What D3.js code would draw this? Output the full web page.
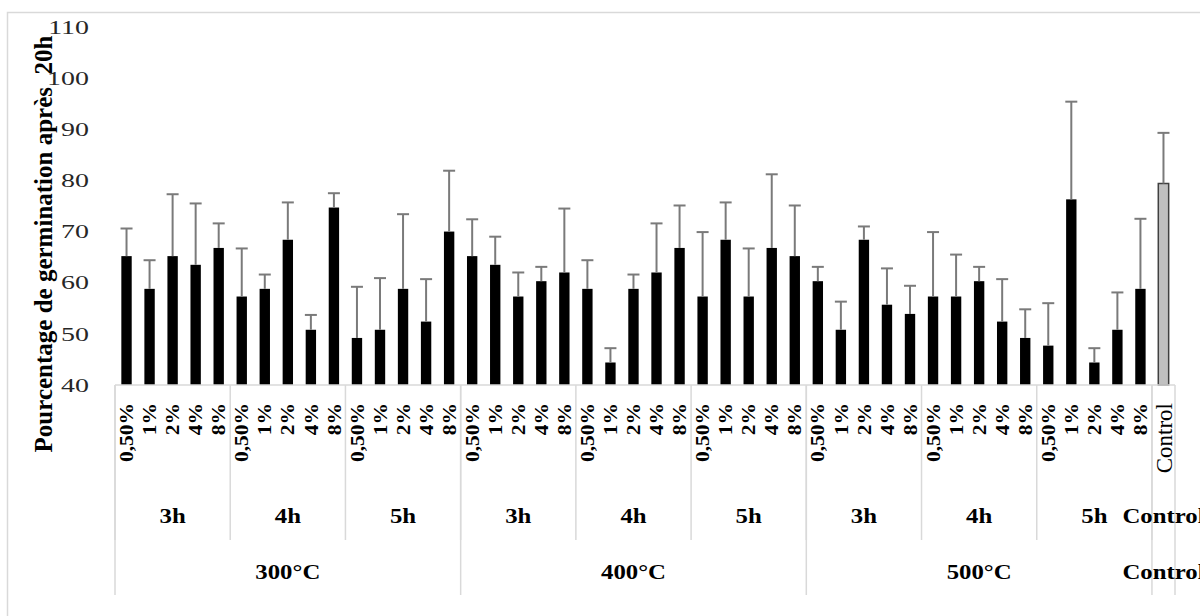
<!DOCTYPE html>
<html>
<head>
<meta charset="utf-8">
<script src="https://cdn.jsdelivr.net/npm/d3@7"></script>
<style>
  body { margin: 0; background: #fff; }
  text { font-family: "Liberation Serif", "Times New Roman", serif; }
</style>
</head>
<body>
<script>
// categories
const temperatures = ['300°C', '400°C', '500°C'];
const durations = ['3h', '4h', '5h'];
const doses = ['0,50%', '1%', '2%', '4%', '8%'];
const controlLabel = 'Control';

// mean germination (%) per temperature / duration, 5 doses each
const means300 = [[65.2, 58.8, 65.2, 63.5, 66.8], [57.3, 58.8, 68.4, 50.8, 74.7], [49.2, 50.8, 58.8, 52.4, 70.0]];
const means400 = [[65.2, 63.5, 57.3, 60.3, 62.0], [58.8, 44.4, 58.8, 62.0, 66.8], [57.3, 68.4, 57.3, 66.8, 65.2]];
const means500 = [[60.3, 50.8, 68.4, 55.7, 53.9], [57.3, 57.3, 60.3, 52.4, 49.2], [47.7, 76.3, 44.4, 50.8, 58.8]];
// standard deviation (upper error bar)
const sd300 = [[5.4, 5.6, 12.1, 12.0, 4.8], [9.4, 2.8, 7.3, 2.9, 2.8], [10.0, 10.1, 14.6, 8.3, 11.9]];
const sd400 = [[7.2, 5.5, 4.7, 2.8, 12.5], [5.6, 2.8, 2.8, 9.6, 8.3], [12.6, 7.3, 9.4, 14.4, 9.9]];
const sd500 = [[2.8, 5.5, 2.6, 7.1, 5.5], [12.6, 8.2, 2.8, 8.3, 5.6], [8.3, 19.1, 2.8, 7.3, 13.7]];
const controlMean = 79.4;
const controlSd = 9.9;

const yTicks = [40, 50, 60, 70, 80, 90, 100, 110];
const yTitle = 'Pourcentage de germination après\u00a0\u00a020h';

const svgWidth = 1200;
const svgHeight = 616;
const plot = {left: 115, right: 1175, top: 27, bottom: 385};

// flat rows
const allMeans = [means300, means400, means500];
const allSd = [sd300, sd400, sd500];
const data = [];
temperatures.forEach((t, ti) => {
    durations.forEach((h, hi) => {
        doses.forEach((d, di) => {
            data.push({key: t + '|' + h + '|' + d, temp: t, dur: h, dose: d,
                value: allMeans[ti][hi][di], sd: allSd[ti][hi][di], control: false});
        });
    });
});
data.push({key: 'Control|Control|Control', temp: controlLabel, dur: controlLabel, dose: controlLabel,
    value: controlMean, sd: controlSd, control: true});

const svg = d3.select('body').append('svg')
    .attr('width', svgWidth)
    .attr('height', svgHeight);

// chart border
svg.append('rect')
    .attr('x', 7.5).attr('y', 12.5)
    .attr('width', 1400).attr('height', 800)
    .attr('fill', 'none')
    .attr('stroke', '#d9d9d9')
    .attr('stroke-width', 1.5);

const pad = 0.55;
const scaleX = d3.scaleBand()
    .domain(data.map(d => d.key))
    .range([plot.left, plot.right])
    .paddingInner(pad)
    .paddingOuter(pad / 2);

const scaleY = d3.scaleLinear()
    .domain([40, 110])
    .range([plot.bottom, plot.top]);

const step = scaleX.step();
const slotStart = k => scaleX(k) - step * pad / 2;
const slotCenter = k => scaleX(k) + scaleX.bandwidth() / 2;

// y tick labels
svg.append('g').selectAll('text')
    .data(yTicks)
    .join('text')
    .attr('transform', d => `translate(89,${scaleY(d)}) scale(1.47,1)`)
    .attr('text-anchor', 'end')
    .attr('dy', '0.35em')
    .attr('font-size', 19)
    .attr('fill', '#262626')
    .text(d => d);

// y title
svg.append('text')
    .attr('transform', 'translate(52,244) rotate(-90)')
    .attr('text-anchor', 'middle')
    .attr('font-size', 25)
    .attr('font-weight', 'bold')
    .attr('fill', '#000')
    .text(yTitle);

// bars
svg.append('g').selectAll('rect')
    .data(data)
    .join('rect')
    .attr('x', d => scaleX(d.key))
    .attr('y', d => scaleY(d.value))
    .attr('width', scaleX.bandwidth())
    .attr('height', d => scaleY(40) - scaleY(d.value))
    .attr('fill', d => d.control ? '#c0c0c0' : '#000')
    .attr('stroke', d => d.control ? '#404040' : 'none')
    .attr('stroke-width', 1.5);

// error bars
const errG = svg.append('g')
    .attr('stroke', '#7a7a7a')
    .attr('stroke-width', 2);
errG.selectAll('line.stem')
    .data(data)
    .join('line')
    .attr('class', 'stem')
    .attr('x1', d => slotCenter(d.key))
    .attr('x2', d => slotCenter(d.key))
    .attr('y1', d => scaleY(d.value))
    .attr('y2', d => scaleY(d.value + d.sd));
errG.selectAll('line.cap')
    .data(data)
    .join('line')
    .attr('class', 'cap')
    .attr('x1', d => slotCenter(d.key) - 6)
    .attr('x2', d => slotCenter(d.key) + 6)
    .attr('y1', d => scaleY(d.value + d.sd))
    .attr('y2', d => scaleY(d.value + d.sd));

// x axis line
svg.append('line')
    .attr('x1', plot.left).attr('x2', plot.right)
    .attr('y1', plot.bottom).attr('y2', plot.bottom)
    .attr('stroke', '#d9d9d9')
    .attr('stroke-width', 1.5);

// dose labels (rotated)
svg.append('g').selectAll('text')
    .data(data)
    .join('text')
    .attr('transform', d => `translate(${slotCenter(d.key)},403) rotate(-90) scale(${d.control ? 1 : 1.13},1)`)
    .attr('text-anchor', 'end')
    .attr('dy', '0.35em')
    .attr('font-size', d => d.control ? 23 : 19)
    .attr('font-weight', d => d.control ? 'normal' : 'bold')
    .attr('fill', '#000')
    .text(d => d.dose);

// groups for duration and temperature levels
const durGroups = d3.groups(data, d => d.temp + '|' + d.dur).map(([k, rows]) => ({
    label: rows[0].dur,
    x0: slotStart(rows[0].key),
    x1: slotStart(rows[rows.length - 1].key) + step
}));
const tempGroups = d3.groups(data, d => d.temp).map(([k, rows]) => ({
    label: rows[0].temp,
    x0: slotStart(rows[0].key),
    x1: slotStart(rows[rows.length - 1].key) + step
}));

const sepG = svg.append('g')
    .attr('stroke', '#d9d9d9')
    .attr('stroke-width', 1.5);
sepG.selectAll('line.dur')
    .data(durGroups.map(g => g.x0))
    .join('line')
    .attr('class', 'dur')
    .attr('x1', d => d).attr('x2', d => d)
    .attr('y1', plot.bottom).attr('y2', 540);
sepG.selectAll('line.temp')
    .data(tempGroups.map(g => g.x0).concat([plot.right]))
    .join('line')
    .attr('class', 'temp')
    .attr('x1', d => d).attr('x2', d => d)
    .attr('y1', plot.bottom).attr('y2', 595);

svg.append('g').selectAll('text')
    .data(durGroups)
    .join('text')
    .attr('transform', d => `translate(${(d.x0 + d.x1) / 2},523) scale(1.18,1)`)
    .attr('text-anchor', 'middle')
    .attr('font-size', 21)
    .attr('font-weight', 'bold')
    .text(d => d.label);

svg.append('g').selectAll('text')
    .data(tempGroups)
    .join('text')
    .attr('transform', d => `translate(${(d.x0 + d.x1) / 2},579) scale(1.18,1)`)
    .attr('text-anchor', 'middle')
    .attr('font-size', 21)
    .attr('font-weight', 'bold')
    .text(d => d.label);
</script>
</body>
</html>
